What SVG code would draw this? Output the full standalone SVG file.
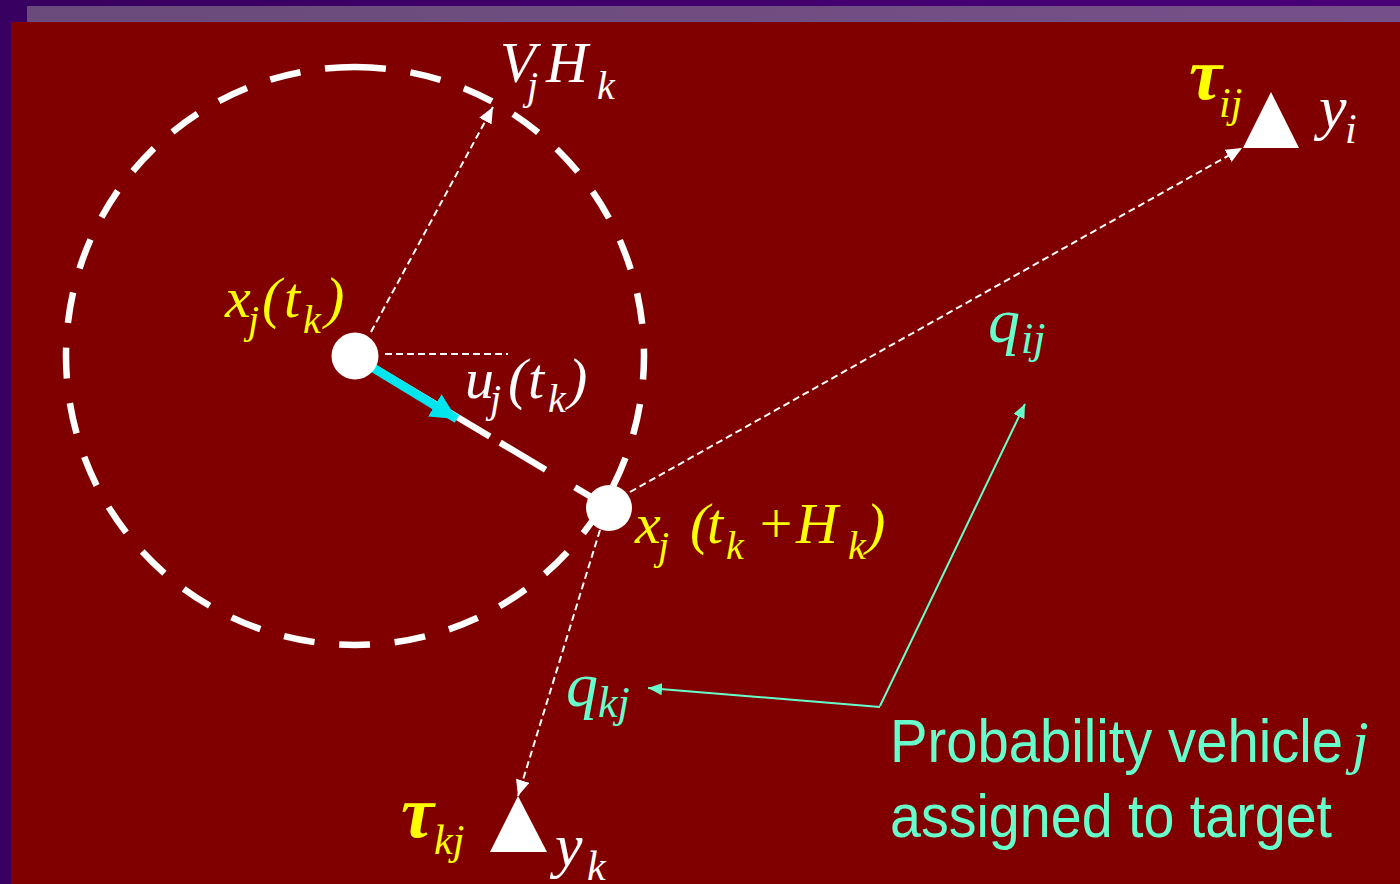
<svg xmlns="http://www.w3.org/2000/svg" width="1400" height="884" viewBox="0 0 1400 884">
<defs>
<linearGradient id="topDark" x1="0" y1="0" x2="1" y2="0"><stop offset="0" stop-color="#380060"/><stop offset="1" stop-color="#4a0078"/></linearGradient>
<linearGradient id="topBand" x1="0" y1="0" x2="1" y2="0"><stop offset="0" stop-color="#6a4a7a"/><stop offset="1" stop-color="#745088"/></linearGradient>
<marker id="wh" markerUnits="userSpaceOnUse" markerWidth="18" markerHeight="14" refX="16" refY="7" orient="auto"><path d="M0,0 L16,7 L0,14 Z" fill="#ffffff"/></marker>
<marker id="tl" markerUnits="userSpaceOnUse" markerWidth="16" markerHeight="12" refX="14" refY="6" orient="auto"><path d="M0,0 L14,6 L0,12 Z" fill="#66ffcc"/></marker>
<marker id="cy" markerUnits="userSpaceOnUse" markerWidth="28" markerHeight="26" refX="26" refY="13" orient="auto"><path d="M0,0 L26,13 L0,26 Z" fill="#00e5ee"/></marker>
<style>
.m{font-family:"Liberation Serif","Times New Roman",serif;font-style:italic}
.tau{font-family:"Liberation Serif","Times New Roman",serif;font-style:italic;font-weight:bold}
.s{font-family:"Liberation Sans",Arial,sans-serif}
.w{fill:#ffffff}.y{fill:#ffff00}.t{fill:#66ffcc}
.thin{stroke:#ffffff;stroke-width:2;stroke-dasharray:7 4;fill:none}
.thick{stroke:#ffffff;stroke-width:6.5;fill:none}
.teal{stroke:#66ffcc;stroke-width:2;fill:none}
</style>
</defs>
<rect x="0" y="0" width="1400" height="884" fill="url(#topDark)"/>
<rect x="27" y="6" width="1373" height="16" fill="url(#topBand)"/>
<rect x="11" y="22" width="1389" height="862" fill="#800000"/>

<g id="reach-circle">
<path d="M355,67 A289,289 0 1,1 355,645 A289,289 0 1,1 355,67" class="thick" stroke-dasharray="31 24.78"/>
</g>

<g id="connectors">
<line x1="355" y1="356" x2="608" y2="507" class="thick" stroke-dasharray="157 12 53 34 50"/>
<line x1="371" y1="332" x2="493" y2="107" class="thin" marker-end="url(#wh)"/>
<line x1="385" y1="354" x2="508" y2="354" class="thin"/>
<line x1="630" y1="492" x2="1242" y2="148" class="thin" marker-end="url(#wh)"/>
<line x1="600" y1="530" x2="518" y2="796" class="thin" marker-end="url(#wh)"/>
<line x1="370" y1="366" x2="457" y2="419" stroke="#00e5ee" stroke-width="9" marker-end="url(#cy)"/>
<line x1="880" y1="706" x2="1025" y2="404" class="teal" marker-end="url(#tl)"/>
<line x1="880" y1="707" x2="648" y2="688" class="teal" marker-end="url(#tl)"/>
</g>

<g id="node-xj-tk">
<circle cx="355" cy="356" r="23.5" fill="#ffffff"/>
<text class="m y" font-size="58"><tspan x="225" y="317">x</tspan><tspan x="248" y="333" font-size="40">j</tspan><tspan x="262" y="317">(</tspan><tspan x="284" y="317">t</tspan><tspan x="303" y="333" font-size="40">k</tspan><tspan x="325" y="317">)</tspan></text>
</g>

<g id="node-xj-tkHk">
<circle cx="609" cy="508" r="23" fill="#ffffff"/>
<text class="m y" font-size="58"><tspan x="635" y="543">x</tspan><tspan x="658" y="559" font-size="40">j</tspan><tspan x="690" y="543">(</tspan><tspan x="707" y="543">t</tspan><tspan x="726" y="559" font-size="40">k</tspan><tspan x="756" y="543">+</tspan><tspan x="796" y="543">H</tspan><tspan x="848" y="559" font-size="40">k</tspan><tspan x="866" y="543">)</tspan></text>
</g>

<g id="label-VjHk">
<text class="m w" font-size="58"><tspan x="500" y="82">V</tspan><tspan x="527" y="99" font-size="40">j</tspan><tspan x="546" y="82">H</tspan><tspan x="597" y="99" font-size="40">k</tspan></text>
</g>

<g id="label-uj">
<text class="m w" font-size="58"><tspan x="465" y="398">u</tspan><tspan x="490" y="412" font-size="40">j</tspan><tspan x="508" y="398">(</tspan><tspan x="528" y="398">t</tspan><tspan x="548" y="412" font-size="40">k</tspan><tspan x="568" y="398">)</tspan></text>
</g>

<g id="target-i">
<path d="M1243,148 L1299,148 L1271,92 Z" fill="#ffffff"/>
<text class="tau y" font-size="74" x="1189" y="99">τ</text>
<text class="m y" font-size="42" x="1219" y="117">ij</text>
<text class="m w" font-size="62"><tspan x="1319" y="128">y</tspan><tspan x="1345" y="143" font-size="42">i</tspan></text>
</g>

<g id="target-k">
<path d="M490,852 L547,852 L518,796 Z" fill="#ffffff"/>
<text class="tau y" font-size="74" x="401" y="837">τ</text>
<text class="m y" font-size="42" x="434" y="854">kj</text>
<text class="m w" font-size="62"><tspan x="555" y="866">y</tspan><tspan x="587" y="880" font-size="42">k</tspan></text>
</g>

<g id="label-qij">
<text class="m t" font-size="64"><tspan x="988" y="342">q</tspan><tspan x="1021" y="353" font-size="44">ij</tspan></text>
</g>
<g id="label-qkj">
<text class="m t" font-size="64"><tspan x="566" y="706">q</tspan><tspan x="598" y="717" font-size="44">kj</tspan></text>
</g>

<g id="label-prob">
<text class="s t" font-size="61" x="890" y="762" textLength="453" lengthAdjust="spacingAndGlyphs">Probability vehicle</text>
<text class="m t" font-size="60" x="1352" y="762">j</text>
<text class="s t" font-size="61" x="890" y="837" textLength="442" lengthAdjust="spacingAndGlyphs">assigned to target</text>
</g>
</svg>
